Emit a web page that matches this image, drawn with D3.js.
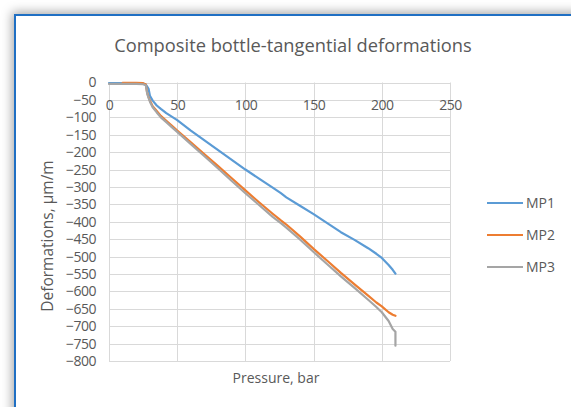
<!DOCTYPE html>
<html><head><meta charset="utf-8">
<script src="https://cdn.jsdelivr.net/npm/d3@7"></script>
<style>
html,body{margin:0;padding:0;background:#fff;overflow:hidden;}
#frame{position:absolute;left:14px;top:14px;width:600px;height:440px;border-left:2px solid #1f6fc3;border-top:2px solid #1f6fc3;box-shadow:0 0 10px 2px rgba(0,0,0,0.35);background:#fff;}
svg{position:absolute;left:0;top:0;}
</style></head>
<body>
<div id="frame"></div>
<script>
// ---- data ----
const pressure = [0, 5, 10, 15, 20, 25, 27, 28, 29, 30, 32, 35, 38, 42, 46, 50, 60, 70, 80, 90, 100, 110, 120, 126, 130, 140, 150, 160, 170, 180, 190, 196, 200, 205, 208, 210, 210];
const mp1 = [-2, -2, -2, -2, -2, -3, -6, -12, -18, -38, -52, -66, -76, -88, -98, -108, -138, -166, -194, -222, -250, -276, -302, -318, -330, -354, -378, -404, -430, -452, -476, -492, -504, -524, -538, -549, null];
const mp2 = [null, null, -1, -1, -1, -2, -6, -30, -42, -52, -68, -82, -96, -110, -124, -138, -172, -206, -240, -275, -310, -344, -377, -396, -408, -442, -478, -512, -547, -580, -612, -632, -643, -660, -667, -670, null];
const mp3 = [-4, -4, -4, -4, -4, -5, -8, -32, -44, -55, -71, -86, -100, -114, -128, -142, -177, -212, -247, -283, -318, -352, -386, -404, -417, -451, -487, -522, -557, -590, -624, -645, -660, -685, -708, -716, -756];
const seriesNames = ["MP1", "MP2", "MP3"];
const seriesColors = ["#5b9bd5", "#ed7d31", "#a5a5a5"];
const xTicks = [0, 50, 100, 150, 200, 250];
const yTicks = [0, -50, -100, -150, -200, -250, -300, -350, -400, -450, -500, -550, -600, -650, -700, -750, -800];
const titleText = "Composite bottle-tangential deformations";
const xTitle = "Pressure, bar";
const yTitle = "Deformations, \u00b5m/m";

// ---- layout ----
const W = 571, H = 407;
const pLeft = 109, pRight = 450, pTop = 82.5, pBottom = 361;
const font = "'Open Sans', 'Noto Sans', sans-serif";
const textColor = "#595959";

const svg = d3.select("body").append("svg").attr("width", W).attr("height", H);
const x = d3.scaleLinear().domain([0, 250]).range([pLeft, pRight]);
const y = d3.scaleLinear().domain([0, -800]).range([pTop, pBottom]);

// gridlines
const g = svg.append("g");
g.selectAll("line.h").data(yTicks).join("line")
  .attr("x1", pLeft).attr("x2", pRight)
  .attr("y1", d => Math.round(y(d)) + 0.5).attr("y2", d => Math.round(y(d)) + 0.5)
  .attr("stroke", "#d9d9d9").attr("stroke-width", 1);
g.selectAll("line.v").data(xTicks).join("line")
  .attr("y1", pTop).attr("y2", pBottom)
  .attr("x1", d => Math.round(x(d)) + 0.5).attr("x2", d => Math.round(x(d)) + 0.5)
  .attr("stroke", "#d9d9d9").attr("stroke-width", 1);

// axes labels via d3 axes
const yAxis = d3.axisLeft(y).tickValues(yTicks).tickSize(0).tickPadding(13).tickFormat(d3.format("d"));
const ya = svg.append("g").attr("transform", `translate(${pLeft},0)`).call(yAxis);
ya.select(".domain").remove();
ya.selectAll("text").attr("font-family", font).attr("font-size", 14).attr("fill", textColor)
  .style("letter-spacing", "-0.5px");

const xAxis = d3.axisBottom(x).tickValues(xTicks).tickSize(0).tickPadding(14);
const xa = svg.append("g").attr("transform", `translate(0,${pTop})`).call(xAxis);
xa.select(".domain").remove();
xa.selectAll("text").attr("font-family", font).attr("font-size", 14).attr("fill", textColor)
  .attr("dy", "0").attr("y", 27).style("letter-spacing", "-0.5px");

// lines
const allSeries = [mp1, mp2, mp3];
const line = d3.line()
  .defined(d => d[1] !== null)
  .x(d => x(d[0])).y(d => y(d[1]));
allSeries.forEach((vals, i) => {
  const pts = pressure.map((p, j) => [p, vals[j]]);
  svg.append("path").datum(pts)
    .attr("d", line).attr("fill", "none")
    .attr("stroke", seriesColors[i]).attr("stroke-width", 2.2)
    .attr("stroke-linejoin", "round").attr("stroke-linecap", "round");
});

// title
svg.append("text").attr("x", 293).attr("y", 52).attr("text-anchor", "middle")
  .attr("font-family", font).attr("font-size", 18.3).attr("fill", textColor).text(titleText);
// x title
svg.append("text").attr("x", 276).attr("y", 383).attr("text-anchor", "middle")
  .attr("font-family", font).attr("font-size", 14).attr("fill", textColor).text(xTitle);
// y title
svg.append("text").attr("transform", "translate(53,236) rotate(-90)").attr("text-anchor", "middle")
  .attr("font-family", font).attr("font-size", 15.5).attr("fill", textColor).text(yTitle);

// legend
const legY = [203, 235, 267];
const lg = svg.append("g");
seriesNames.forEach((n, i) => {
  lg.append("line").attr("x1", 487).attr("x2", 523).attr("y1", legY[i]).attr("y2", legY[i])
    .attr("stroke", seriesColors[i]).attr("stroke-width", 2.2);
  lg.append("text").attr("x", 526).attr("y", legY[i] + 5)
    .attr("font-family", font).attr("font-size", 14).attr("fill", textColor).text(n);
});
</script>
</body></html>
